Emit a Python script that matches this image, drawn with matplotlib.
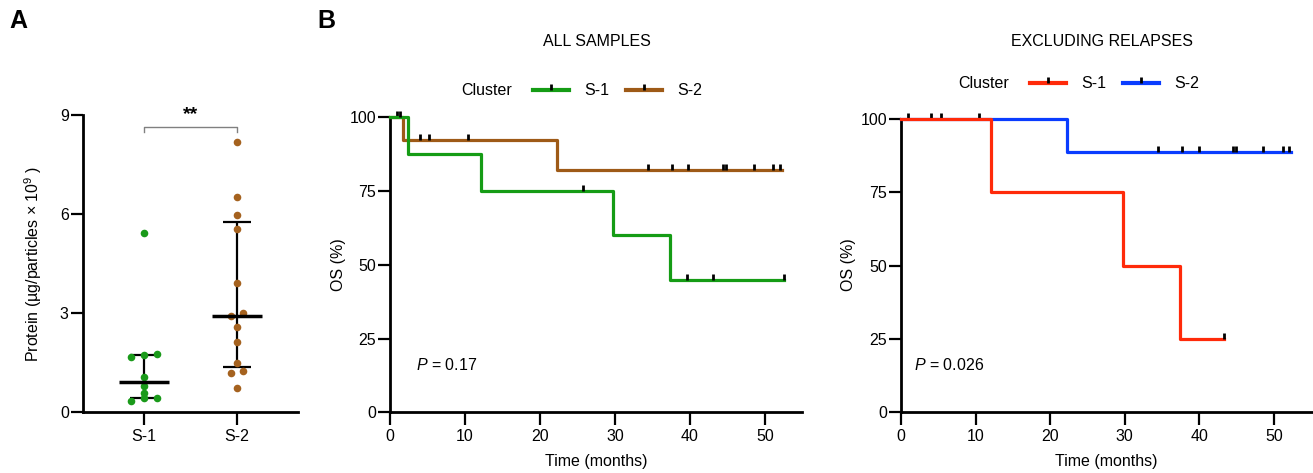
import numpy as np
import matplotlib
matplotlib.use('Agg')
import matplotlib.pyplot as plt
from matplotlib.lines import Line2D

plt.rcParams['font.family'] = ['Liberation Sans', 'DejaVu Sans']
plt.rcParams['mathtext.fontset'] = 'custom'
plt.rcParams['mathtext.rm'] = 'Liberation Sans'
plt.rcParams['mathtext.it'] = 'Liberation Sans:italic'
FS = 11.5
plt.rcParams['font.size'] = FS

# ---- data ----
groups = ['S-1', 'S-2']
protein_s1 = [5.43, 1.75, 1.68, 1.73, 1.05, 0.79, 0.57, 0.34, 0.41, 0.41]
protein_s2 = [8.19, 6.52, 5.97, 5.56, 3.92, 2.91, 2.99, 2.59, 2.11, 1.47, 1.24, 1.17, 0.74]
sig_label = '**'
sig_level = 8.65

# Kaplan-Meier steps: times (months), OS (%) and censor times
all_s1_t = [0, 2.4, 12.2, 29.8, 37.3, 52.6]
all_s1_os = [100, 87.5, 75, 60, 45, 45]
all_s1_cens = [1.3, 25.8, 39.6, 43.1, 52.6]
all_s2_t = [0, 1.7, 22.3, 52.3]
all_s2_os = [100, 92.3, 82.1, 82.1]
all_s2_cens = [0.9, 4.0, 5.2, 10.4, 34.4, 37.6, 39.8, 44.4, 44.8, 48.5, 51.1, 52.0]
all_p = '0.17'

ex_s1_t = [0, 12.1, 29.8, 37.4, 43.3]
ex_s1_os = [100, 75, 50, 25, 25]
ex_s1_cens = [43.3]
ex_s2_t = [0, 22.3, 52.3]
ex_s2_os = [100, 88.9, 88.9]
ex_s2_cens = [1.0, 4.0, 5.4, 10.5, 34.5, 37.6, 39.9, 44.5, 44.9, 48.5, 51.2, 52.0]
ex_p = '0.026'

GREEN = '#159c15'
BROWN = '#9e5a17'
RED = '#ff2a0a'
BLUE = '#0a3cff'
PT_GREEN = '#1a9a1a'
PT_BROWN = '#a5621f'

TICK = [(0, 0), (0, 1)]   # censor mark pointing up

W, H = 1313, 473
fig = plt.figure(figsize=(W / 100, H / 100), dpi=100)


def px_axes(l, t, r, b):
    return fig.add_axes([l / W, 1 - b / H, (r - l) / W, (b - t) / H])


def ftext(x, y, s, **kw):
    fig.text(x / W, 1 - y / H, s, **kw)


def style(ax):
    for sp in ['top', 'right']:
        ax.spines[sp].set_visible(False)
    for sp in ['left', 'bottom']:
        ax.spines[sp].set_linewidth(2)
    ax.tick_params(direction='out', length=9, width=1.6, labelsize=FS)
    ax.tick_params(axis='y', pad=1)
    ax.tick_params(axis='x', pad=3)


def swarm(vals, d=0.135, row=0.21):
    vals = np.asarray(vals)
    rows = np.round(vals / row)
    off = np.zeros(len(vals))
    for r in np.unique(rows):
        idx = np.where(rows == r)[0]
        idx = idx[np.argsort(vals[idx])]
        n = len(idx)
        off[idx] = (np.arange(n) - (n - 1) / 2) * d
    return off


# ---- panel A ----
axA = px_axes(82.7, 115, 298, 412)
style(axA)
for i, (vals, col) in enumerate([(protein_s1, PT_GREEN), (protein_s2, PT_BROWN)]):
    x = i + 1
    q1, med, q3 = np.percentile(vals, [25, 50, 75], method='weibull')
    axA.vlines(x, q1, q3, color='k', lw=1.6, zorder=2)
    axA.hlines([q1, q3], x - 0.15, x + 0.15, color='k', lw=1.6, zorder=2)
    axA.scatter(x + swarm(vals), vals, s=30, color=col, zorder=3, linewidths=0)
    axA.hlines(med, x - 0.27, x + 0.27, color='k', lw=2.5, zorder=4)
axA.set_xlim(0.339, 2.66)
axA.set_ylim(0, 9)
axA.set_yticks([0, 3, 6, 9])
axA.set_xticks([1, 2])
axA.set_xticklabels(groups)
axA.plot([1, 1, 2, 2], [sig_level - 0.18, sig_level, sig_level, sig_level - 0.18],
         color='#808080', lw=1, clip_on=False)
axA.text(1.5, sig_level + 0.1, sig_label, ha='center', va='bottom', fontsize=14,
         fontweight='bold')
ftext(33, 264, r'Protein (µg/particles × 10$^{9}$ )', rotation=90, ha='center',
      va='center', fontsize=FS)


# ---- panel B ----
def km(ax, t, s, cens, color, z):
    ax.plot(t, s, drawstyle='steps-post', color=color, lw=2.3, clip_on=False,
            zorder=z)
    idx = np.searchsorted(t, cens, side='right') - 1
    ax.plot(cens, np.array(s)[idx], ls='none', marker=TICK, ms=8.5, mec='k', mew=2,
            clip_on=False, zorder=z + 0.5)


def km_axes(ax, xmax):
    style(ax)
    ax.set_xlim(0, xmax)
    ax.set_ylim(0, 100)
    ax.set_xticks([0, 10, 20, 30, 40, 50])
    ax.set_yticks([0, 25, 50, 75, 100])


def legend(x, y, c1, c2):
    hs = [Line2D([], [], color=c, lw=3, marker=TICK, ms=8.5, mec='k', mew=2)
          for c in (c1, c2)]
    fig.legend(hs, groups, loc='center left', bbox_to_anchor=(x / W, 1 - y / H),
               ncol=2, frameon=False, borderpad=0, borderaxespad=0,
               handlelength=2.25, handletextpad=0.95, columnspacing=1.05,
               fontsize=FS, numpoints=1)


axB1 = px_axes(390, 117.3, 801.7, 412.3)
km_axes(axB1, 54.9)
km(axB1, all_s2_t, all_s2_os, all_s2_cens, BROWN, 3)
km(axB1, all_s1_t, all_s1_os, all_s1_cens, GREEN, 4)
axB1.set_xlabel('Time (months)', fontsize=FS, labelpad=7)
ftext(338, 265, 'OS (%)', rotation=90, ha='center', va='center', fontsize=FS)
ftext(416, 365, r'$\mathit{P}$ = ' + all_p, ha='left', va='center', fontsize=FS)
ftext(596.7, 41, 'ALL SAMPLES', ha='center', va='center', fontsize=FS)
ftext(461.7, 90.7, 'Cluster', ha='left', va='center', fontsize=FS)
legend(533, 90.7, GREEN, BROWN)

axB2 = px_axes(901, 119, 1311.7, 412.3)
km_axes(axB2, 55.05)
km(axB2, ex_s2_t, ex_s2_os, ex_s2_cens, BLUE, 3)
km(axB2, ex_s1_t, ex_s1_os, ex_s1_cens, RED, 4)
axB2.set_xlabel('Time (months)', fontsize=FS, labelpad=7)
ftext(848, 265, 'OS (%)', rotation=90, ha='center', va='center', fontsize=FS)
ftext(914, 365, r'$\mathit{P}$ = ' + ex_p, ha='left', va='center', fontsize=FS)
ftext(1101.7, 41, 'EXCLUDING RELAPSES', ha='center', va='center', fontsize=FS)
ftext(958, 84, 'Cluster', ha='left', va='center', fontsize=FS)
legend(1030, 84, RED, BLUE)

ftext(9, 21.5, 'A', ha='left', va='center', fontsize=18, fontweight='bold')
ftext(317, 21.5, 'B', ha='left', va='center', fontsize=18, fontweight='bold')

fig.savefig('out.png', dpi=100)
